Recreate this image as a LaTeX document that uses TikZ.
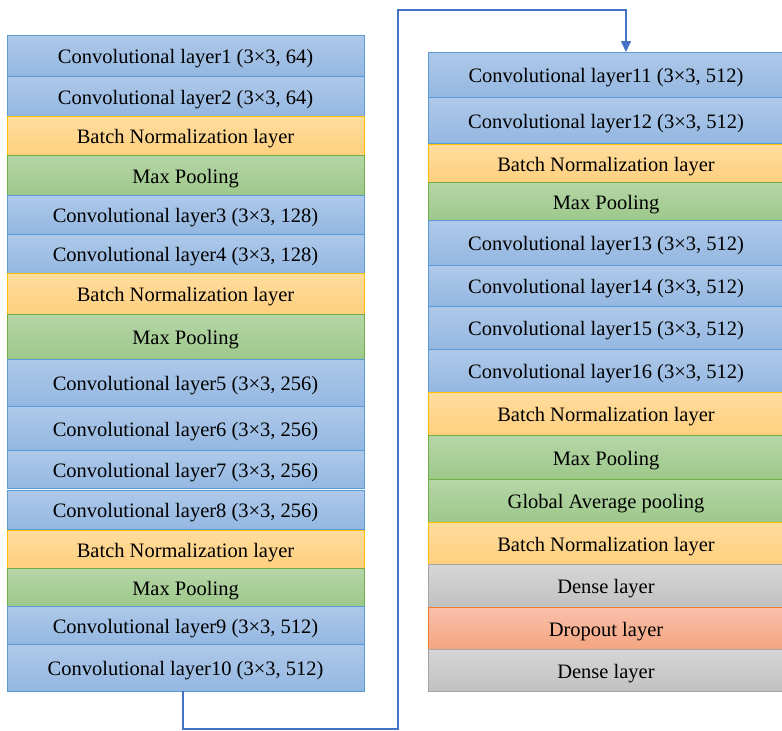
\documentclass[tikz,border=0pt]{standalone}
\usepackage{fontspec}
\setmainfont{Liberation Serif}
\usetikzlibrary{arrows.meta}
\definecolor{convT}{HTML}{AFC9E9}
\definecolor{convB}{HTML}{94B7E1}
\definecolor{convD}{HTML}{5B9BD5}
\definecolor{bnT}{HTML}{FFDC9E}
\definecolor{bnB}{HTML}{FFD07E}
\definecolor{bnD}{HTML}{FFC000}
\definecolor{mpT}{HTML}{B6D6A8}
\definecolor{mpB}{HTML}{9DC88A}
\definecolor{mpD}{HTML}{70AD47}
\definecolor{grT}{HTML}{D6D6D6}
\definecolor{grB}{HTML}{C1C1C1}
\definecolor{grD}{HTML}{A5A5A5}
\definecolor{drT}{HTML}{F9C0AB}
\definecolor{drB}{HTML}{F4A581}
\definecolor{drD}{HTML}{ED7D31}
\definecolor{arr}{HTML}{4472C4}
\newcommand\layfont{\fontsize{20.5}{24}\selectfont}
\tikzset{
  layer/.style={draw, line width=0.75pt, inner sep=0pt, outer sep=0pt, align=center, font=\layfont, text=black, text height=16.5pt, text depth=0pt},
  leftcol/.style={minimum width=357pt},
  rightcol/.style={minimum width=356pt},
  conv/.style={layer, draw=convD, top color=convT, bottom color=convB},
  bn/.style={layer, draw=bnD, top color=bnT, bottom color=bnB},
  mp/.style={layer, draw=mpD, top color=mpT, bottom color=mpB},
  dense/.style={layer, draw=grD, top color=grT, bottom color=grB},
  drop/.style={layer, draw=drD, top color=drT, bottom color=drB},
  link/.style={draw=arr, line width=1.5pt, -{Triangle[length=11pt,width=10pt]}},
}
\begin{document}
\begin{tikzpicture}[x=1pt,y=-1pt]
\useasboundingbox (0,0) rectangle (782,731);
% left column
\node[conv,leftcol,minimum height=41pt] (c1) at (185.5,55.5) {Convolutional layer1 (3×3, 64)};
\node[conv,leftcol,minimum height=40pt] (c2) at (185.5,96) {Convolutional layer2 (3×3, 64)};
\node[bn,leftcol,minimum height=39pt] (bn1) at (185.5,135.5) {Batch Normalization layer};
\node[mp,leftcol,minimum height=40pt] (mp1) at (185.5,175) {Max Pooling};
\node[conv,leftcol,minimum height=39pt] (c3) at (185.5,214.5) {Convolutional layer3 (3×3, 128)};
\node[conv,leftcol,minimum height=39pt] (c4) at (185.5,253.5) {Convolutional layer4 (3×3, 128)};
\node[bn,leftcol,minimum height=41pt] (bn2) at (185.5,293.5) {Batch Normalization layer};
\node[mp,leftcol,minimum height=45pt] (mp2) at (185.5,336.5) {Max Pooling};
\node[conv,leftcol,minimum height=47pt] (c5) at (185.5,382.5) {Convolutional layer5 (3×3, 256)};
\node[conv,leftcol,minimum height=44pt] (c6) at (185.5,428) {Convolutional layer6 (3×3, 256)};
\node[conv,leftcol,minimum height=38pt] (c7) at (185.5,469) {Convolutional layer7 (3×3, 256)};
\node[conv,leftcol,minimum height=39pt] (c8) at (185.5,509.5) {Convolutional layer8 (3×3, 256)};
\node[bn,leftcol,minimum height=38pt] (bn3) at (185.5,549) {Batch Normalization layer};
\node[mp,leftcol,minimum height=38pt] (mp3) at (185.5,587) {Max Pooling};
\node[conv,leftcol,minimum height=38pt] (c9) at (185.5,625) {Convolutional layer9 (3×3, 512)};
\node[conv,leftcol,minimum height=47pt] (c10) at (185.5,667.5) {Convolutional layer10 (3×3, 512)};
% right column
\node[conv,rightcol,minimum height=45pt] (c11) at (606,74.5) {Convolutional layer11 (3×3, 512)};
\node[conv,rightcol,minimum height=46pt] (c12) at (606,120) {Convolutional layer12 (3×3, 512)};
\node[bn,rightcol,minimum height=38pt] (bn4) at (606,163) {Batch Normalization layer};
\node[mp,rightcol,minimum height=38pt] (mp4) at (606,201) {Max Pooling};
\node[conv,rightcol,minimum height=45pt] (c13) at (606,242.5) {Convolutional layer13 (3×3, 512)};
\node[conv,rightcol,minimum height=41pt] (c14) at (606,285.5) {Convolutional layer14 (3×3, 512)};
\node[conv,rightcol,minimum height=43pt] (c15) at (606,327.5) {Convolutional layer15 (3×3, 512)};
\node[conv,rightcol,minimum height=43pt] (c16) at (606,370.5) {Convolutional layer16 (3×3, 512)};
\node[bn,rightcol,minimum height=43pt] (bn5) at (606,413.5) {Batch Normalization layer};
\node[mp,rightcol,minimum height=44pt] (mp5) at (606,457) {Max Pooling};
\node[mp,rightcol,minimum height=43pt] (gap) at (606,500.5) {Global Average pooling};
\node[bn,rightcol,minimum height=42pt] (bn6) at (606,543) {Batch Normalization layer};
\node[dense,rightcol,minimum height=43pt] (d1) at (606,585.5) {Dense layer};
\node[drop,rightcol,minimum height=42pt] (dr) at (606,628) {Dropout layer};
\node[dense,rightcol,minimum height=42pt] (d2) at (606,670) {Dense layer};
% connector
\coordinate (b1) at (398,729);
\coordinate (b2) at (398,10);
\draw[link] ([xshift=-2.5pt]c10.south) |- (b1) -- (b2) -| ([xshift=20pt]c11.north);
\end{tikzpicture}
\end{document}
